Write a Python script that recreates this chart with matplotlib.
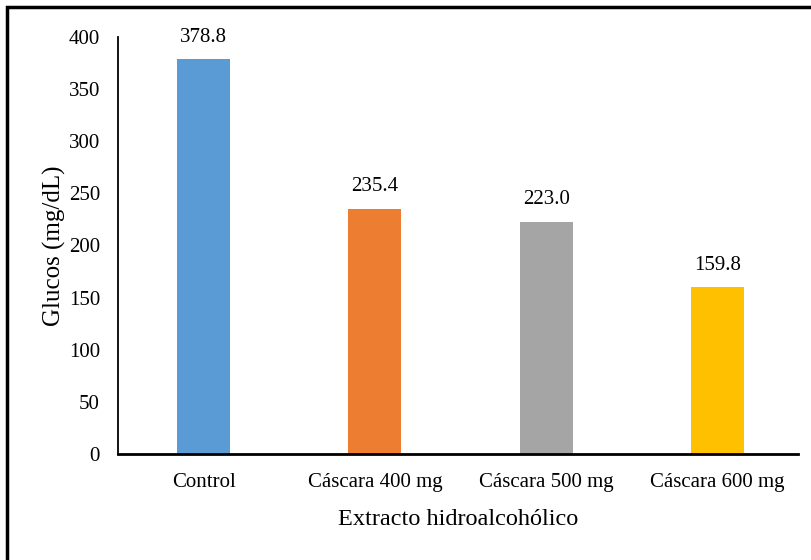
import matplotlib
matplotlib.use("Agg")
import matplotlib.pyplot as plt
from matplotlib.patches import Rectangle

categories = ["Control", "Cáscara 400 mg", "Cáscara 500 mg", "Cáscara 600 mg"]
values = [378.8, 235.4, 223.0, 159.8]
labels = ["378.8", "235.4", "223.0", "159.8"]
colors = ["#5B9BD5", "#ED7D31", "#A5A5A5", "#FFC000"]
yticks = [0, 50, 100, 150, 200, 250, 300, 350, 400]

plt.rcParams['font.family'] = ['Liberation Serif', 'DejaVu Serif']

W, H = 811, 560
fig = plt.figure(figsize=(W/100, H/100), dpi=100)

# figure border (top and left visible; right/bottom run off the image)
fig.add_artist(Rectangle((7/W, -0.05), 1.1, 1 - 7/H + 0.05, transform=fig.transFigure,
                         fill=False, edgecolor='black', linewidth=2.5))

left, right, top, bottom = 118, 798, 37, 454
ax = fig.add_axes([left/W, 1 - bottom/H, (right-left)/W, (bottom-top)/H])
x = range(len(categories))
ax.bar(x, values, width=0.31, color=colors, zorder=2)
for xi, v, t in zip(x, values, labels):
    ax.annotate(t, (xi, v), xytext=(0, 9), textcoords='offset points',
                ha='center', va='bottom', fontsize=15)

ax.set_ylim(0, 400)
ax.set_xlim(-0.5, 3.47)
ax.set_yticks(yticks)
ax.set_xticks(list(x))
ax.set_xticklabels(categories)
ax.tick_params(axis='both', length=0, labelsize=15)
ax.tick_params(axis='y', pad=13)
ax.tick_params(axis='x', pad=14)
for s in ['top', 'right']:
    ax.spines[s].set_visible(False)
ax.spines['left'].set_linewidth(1.3)
ax.spines['bottom'].set_linewidth(2)
ax.set_ylabel("Glucos (mg/dL)", fontsize=18, labelpad=2)
ax.set_xlabel("Extracto hidroalcohólico", fontsize=17.5, labelpad=12)

fig.savefig("out.png", dpi=100)
